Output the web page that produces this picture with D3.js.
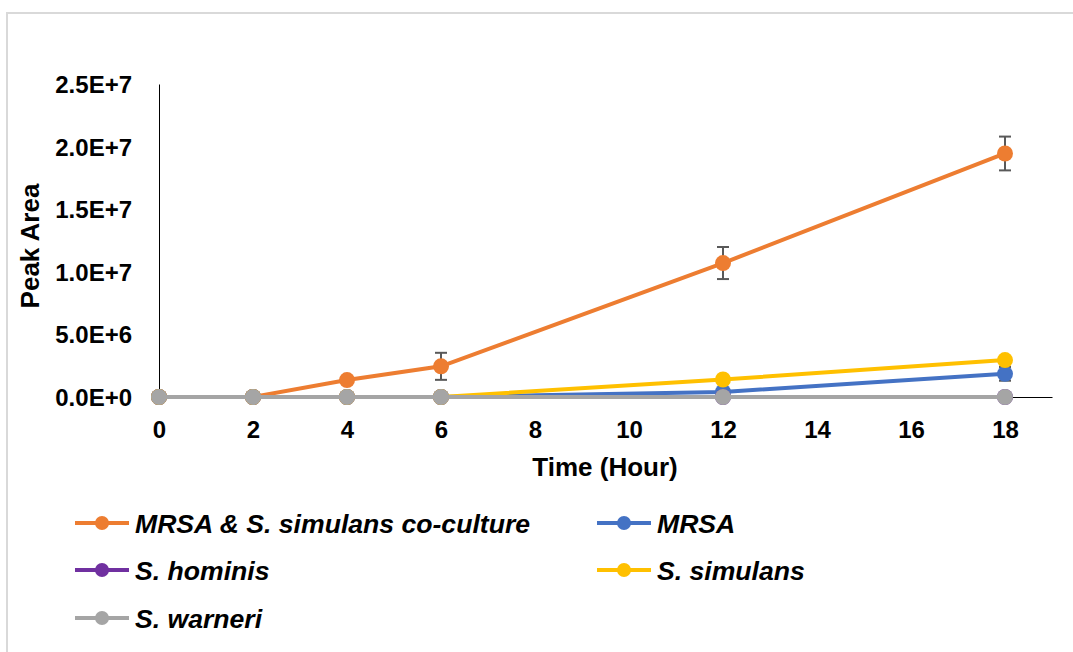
<!DOCTYPE html>
<html>
<head>
  <meta charset="utf-8">
  <title>Peak Area over Time</title>
  <style>
    body { margin: 0; background: #fff; }
    svg { display: block; font-family: "Liberation Sans", Arial, sans-serif; }
    .axis text { font-weight: bold; font-size: 24px; fill: #000; }
    .axis path { stroke: #000; stroke-width: 1; }
    .legend text { font-weight: bold; font-style: italic; font-size: 26.6px; }
  </style>
</head>
<body>
<script src="https://cdn.jsdelivr.net/npm/d3@7"></script>
<script>
  // data
  var hours = [0, 2, 4, 6, 12, 18];
  var coculture = [0, 0, 1.35e6, 2.45e6, 1.07e7, 1.945e7];
  var cocultureErr = [0, 0, 0.1e6, 1.08e6, 1.28e6, 1.35e6];
  var mrsa = [0, 0, 0, 0, 0.4e6, 1.85e6];
  var mrsaErr = [0, 0, 0, 0, 0.05e6, 0.55e6];
  var hominis = [0, 0, 0, 0, 0, 0];
  var simulans = [0, 0, 0, 0, 1.4e6, 2.95e6];
  var simulansErr = [0, 0, 0, 0, 0.1e6, 0.1e6];
  var warneri = [0, 0, 0, 0, 0, 0];
  var xTicks = [0, 2, 4, 6, 8, 10, 12, 14, 16, 18];
  var yTicks = [0, 5e6, 1e7, 1.5e7, 2e7, 2.5e7];

  var series = [
    { name: "MRSA & S. simulans co-culture", values: coculture, err: cocultureErr, color: "#ED7D31" },
    { name: "MRSA", values: mrsa, err: mrsaErr, color: "#4472C4" },
    { name: "S. hominis", values: hominis, err: null, color: "#7030A0" },
    { name: "S. simulans", values: simulans, err: simulansErr, color: "#FFC000" },
    { name: "S. warneri", values: warneri, err: null, color: "#A5A5A5" }
  ];

  var w = 1073, h = 652;

  var svg = d3.select("body").append("svg")
      .attr("width", w)
      .attr("height", h);

  // chart border (runs off the right and bottom edge)
  svg.append("rect")
      .attr("x", 7).attr("y", 13)
      .attr("width", w + 10).attr("height", h + 10)
      .attr("fill", "#fff")
      .attr("stroke", "#d9d9d9")
      .attr("stroke-width", 2);

  var x = d3.scaleLinear().domain([0, 19]).range([159, 1052]);
  var y = d3.scaleLinear().domain([0, 2.5e7]).range([397, 84]);

  var yFmt = function(d) { return d3.format(".1e")(d).toUpperCase(); };

  svg.append("g")
      .attr("class", "axis")
      .attr("transform", "translate(0," + y(0) + ")")
      .call(d3.axisBottom(x).tickValues(xTicks).tickSize(0).tickPadding(24).tickSizeOuter(0));

  svg.append("g")
      .attr("class", "axis")
      .attr("transform", "translate(" + x(0) + ",0)")
      .call(d3.axisLeft(y).tickValues(yTicks).tickFormat(yFmt).tickSize(0).tickPadding(27).tickSizeOuter(0))
      .selectAll("text").attr("dy", "0.35em");

  svg.append("text")
      .attr("x", 605).attr("y", 476)
      .attr("text-anchor", "middle")
      .style("font-weight", "bold").style("font-size", "26px")
      .text("Time (Hour)");

  svg.append("text")
      .attr("transform", "translate(39,246) rotate(-90)")
      .attr("text-anchor", "middle")
      .style("font-weight", "bold").style("font-size", "26px")
      .text("Peak Area");

  var line = d3.line()
      .x(function(d) { return x(d[0]); })
      .y(function(d) { return y(d[1]); });

  series.forEach(function(s) {
    var pts = hours.map(function(t, i) { return [t, s.values[i], s.err ? s.err[i] : 0]; });
    var g = svg.append("g");

    g.append("path")
        .datum(pts)
        .attr("d", line)
        .attr("fill", "none")
        .attr("stroke", s.color)
        .attr("stroke-width", 4);

    if (s.err) {
      var eb = g.selectAll(".err").data(pts.filter(function(p) { return p[2] > 0; }))
          .enter().append("g").attr("stroke", "#595959").attr("stroke-width", 2);
      eb.append("line")
          .attr("x1", function(p) { return x(p[0]); }).attr("x2", function(p) { return x(p[0]); })
          .attr("y1", function(p) { return y(p[1] - p[2]); }).attr("y2", function(p) { return y(p[1] + p[2]); });
      eb.append("line")
          .attr("x1", function(p) { return x(p[0]) - 6; }).attr("x2", function(p) { return x(p[0]) + 6; })
          .attr("y1", function(p) { return y(p[1] + p[2]); }).attr("y2", function(p) { return y(p[1] + p[2]); });
      eb.append("line")
          .attr("x1", function(p) { return x(p[0]) - 6; }).attr("x2", function(p) { return x(p[0]) + 6; })
          .attr("y1", function(p) { return y(p[1] - p[2]); }).attr("y2", function(p) { return y(p[1] - p[2]); });
    }

    g.selectAll("circle").data(pts).enter().append("circle")
        .attr("cx", function(p) { return x(p[0]); })
        .attr("cy", function(p) { return y(p[1]); })
        .attr("r", 8)
        .attr("fill", s.color);
  });

  // legend, two columns
  var legX = [75, 597];
  var legY = [523, 570, 618];
  var legend = svg.append("g").attr("class", "legend");
  series.forEach(function(s, i) {
    var lx = legX[i % 2], ly = legY[Math.floor(i / 2)];
    var item = legend.append("g").attr("transform", "translate(" + lx + "," + ly + ")");
    item.append("line").attr("x1", 0).attr("x2", 54).attr("y1", 0).attr("y2", 0)
        .attr("stroke", s.color).attr("stroke-width", 4);
    item.append("circle").attr("cx", 27).attr("cy", 0).attr("r", 7).attr("fill", s.color);
    item.append("text").attr("x", 60).attr("y", 0).attr("dy", "0.36em").text(s.name);
  });
</script>
</body>
</html>
